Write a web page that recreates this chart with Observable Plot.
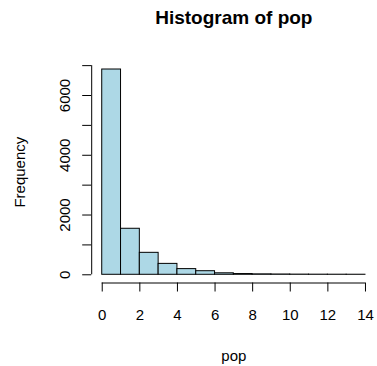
<!DOCTYPE html>
<html>
<head>
<meta charset="utf-8">
<script src="https://cdn.jsdelivr.net/npm/d3@7"></script>
<script src="https://cdn.jsdelivr.net/npm/@observablehq/plot@0.6"></script>
<style>
  html, body { margin: 0; padding: 0; background: white; }
</style>
</head>
<body>
<div id="chart"></div>
<script>
// Histogram bin edges (pop) and counts (Frequency)
const breaks = [0, 1, 2, 3, 4, 5, 6, 7, 8, 9, 10, 11, 12, 13, 14];
const counts = [6870, 1540, 735, 365, 190, 120, 50, 25, 15, 10, 6, 4, 3, 2];
const xTicks = [0, 2, 4, 6, 8, 10, 12, 14];
const yTicks = [0, 1000, 2000, 3000, 4000, 5000, 6000, 7000];
const yLabels = [0, 2000, 4000, 6000];
const title = "Histogram of pop";
const xLabel = "pop";
const yLabel = "Frequency";

const bins = counts.map((c, i) => ({x0: breaks[i], x1: breaks[i + 1], count: c}));

// R-style 4% extension of the data ranges
const xr = [breaks[0], breaks[breaks.length - 1]];
const yr = [0, d3.max(counts)];
const xpad = (xr[1] - xr[0]) * 0.04;
const ypad = (yr[1] - yr[0]) * 0.04;
const xDomain = [xr[0] - xpad, xr[1] + xpad];
const yDomain = [yr[0] - ypad, yr[1] + ypad];

const font = "Liberation Sans, Arial, Helvetica, sans-serif";
const fs = 15;

const chart = Plot.plot({
  width: 377,
  height: 366,
  marginLeft: 91.2,
  marginRight: 1.5,
  marginTop: 60.8,
  marginBottom: 83.5,
  style: {fontFamily: font, fontSize: fs + "px", background: "white", color: "black"},
  x: {type: "linear", domain: xDomain, axis: null},
  y: {type: "linear", domain: yDomain, axis: null},
  marks: [
    Plot.rectY(bins, {x1: "x0", x2: "x1", y: "count", fill: "#add8e6", stroke: "black", strokeWidth: 1, insetLeft: 0, insetRight: 0}),
    // x axis
    Plot.ruleY([yDomain[0]], {x1: xTicks[0], x2: xTicks[xTicks.length - 1], stroke: "black"}),
    Plot.axisX({ticks: xTicks, tickSize: 9, tickPadding: 17, tickFormat: d => String(d), stroke: "black", fill: "black", anchor: "bottom", label: null, fontSize: fs}),
    // y axis
    Plot.ruleX([xDomain[0]], {y1: yTicks[0], y2: yTicks[yTicks.length - 1], stroke: "black"}),
    Plot.axisY({ticks: yTicks, tickSize: 9, tickFormat: () => "", stroke: "black", anchor: "left", label: null}),
    Plot.text(yLabels, {y: d => d, text: d => String(d), frameAnchor: "left", dx: -27, rotate: -90, textAnchor: "middle", lineAnchor: "middle", fill: "black", fontSize: fs}),
    // titles
    Plot.text([title], {frameAnchor: "top", dy: -43.5, textAnchor: "middle", lineAnchor: "middle", fontWeight: "bold", fontSize: 19, fill: "black"}),
    Plot.text([xLabel], {frameAnchor: "bottom", dy: 73, textAnchor: "middle", lineAnchor: "middle", fontSize: fs, fill: "black"}),
    Plot.text([yLabel], {frameAnchor: "left", dx: -72, rotate: -90, textAnchor: "middle", lineAnchor: "middle", fontSize: fs, fill: "black"})
  ]
});
document.getElementById("chart").appendChild(chart);
</script>
</body>
</html>
